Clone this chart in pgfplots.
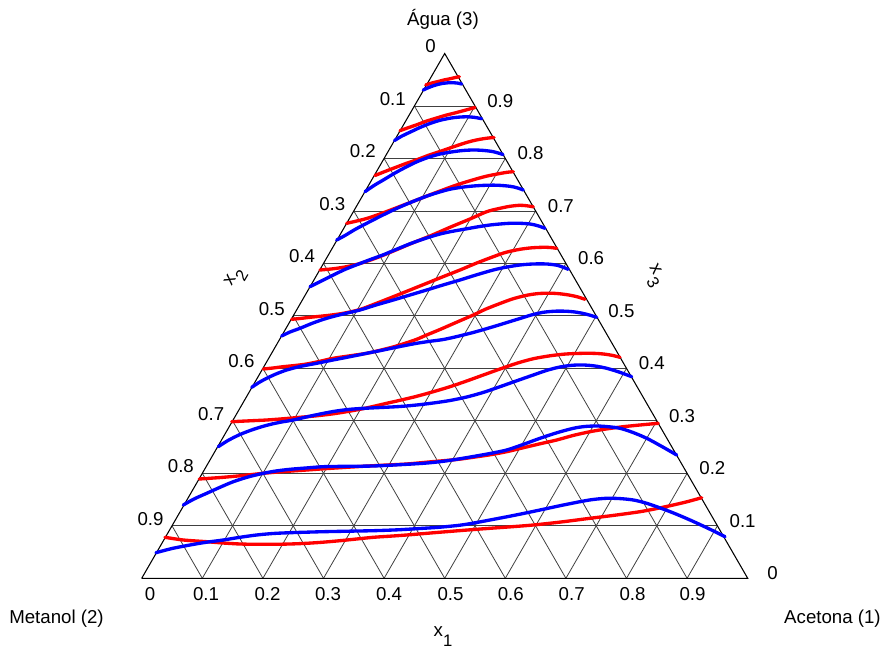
\documentclass[border=0pt]{standalone}
\usepackage{pgfplots}
\pgfplotsset{compat=1.18}
\usepackage{fontspec}
\setmainfont{Liberation Sans}
\definecolor{cred}{RGB}{255,0,0}
\definecolor{cblue}{RGB}{0,0,255}
\tikzset{lab/.style={font=\fontsize{14}{16}\selectfont, inner sep=0pt}}
\begin{document}
\begin{tikzpicture}
\begin{axis}[
  scale only axis, width=664.5pt, height=491.25pt,
  xmin=0, xmax=886, ymin=0, ymax=655, y dir=reverse,
  axis lines=none, clip=false,
  grd/.style={black!75, line width=0.6pt, forget plot},
  rc/.style={cred, line width=2.5pt, smooth, line cap=round, forget plot},
  bc/.style={cblue, line width=2.5pt, smooth, line cap=round, forget plot},
]
\path (axis cs:0,0) rectangle (axis cs:886,655);
% grid: constant x3 (horizontal)
\addplot[grd] coordinates {(172.0,525.82) (717.4,525.82)};
\addplot[grd] coordinates {(202.3,473.34) (687.1,473.34)};
\addplot[grd] coordinates {(232.6,420.86) (656.8,420.86)};
\addplot[grd] coordinates {(262.9,368.38) (626.5,368.38)};
\addplot[grd] coordinates {(293.2,315.9) (596.2,315.9)};
\addplot[grd] coordinates {(323.5,263.42) (565.9,263.42)};
\addplot[grd] coordinates {(353.8,210.94) (535.6,210.94)};
\addplot[grd] coordinates {(384.1,158.46) (505.3,158.46)};
\addplot[grd] coordinates {(414.4,105.98) (475.0,105.98)};
% constant x1
\addplot[grd] coordinates {(202.3,578.3) (475.0,105.98)};
\addplot[grd] coordinates {(262.9,578.3) (505.3,158.46)};
\addplot[grd] coordinates {(323.5,578.3) (535.6,210.94)};
\addplot[grd] coordinates {(384.1,578.3) (565.9,263.42)};
\addplot[grd] coordinates {(444.7,578.3) (596.2,315.9)};
\addplot[grd] coordinates {(505.3,578.3) (626.5,368.38)};
\addplot[grd] coordinates {(565.9,578.3) (656.8,420.86)};
\addplot[grd] coordinates {(626.5,578.3) (687.1,473.34)};
\addplot[grd] coordinates {(687.1,578.3) (717.4,525.82)};
% constant x2
\addplot[grd] coordinates {(687.1,578.3) (414.4,105.98)};
\addplot[grd] coordinates {(626.5,578.3) (384.1,158.46)};
\addplot[grd] coordinates {(565.9,578.3) (353.8,210.94)};
\addplot[grd] coordinates {(505.3,578.3) (323.5,263.42)};
\addplot[grd] coordinates {(444.7,578.3) (293.2,315.9)};
\addplot[grd] coordinates {(384.1,578.3) (262.9,368.38)};
\addplot[grd] coordinates {(323.5,578.3) (232.6,420.86)};
\addplot[grd] coordinates {(262.9,578.3) (202.3,473.34)};
\addplot[grd] coordinates {(202.3,578.3) (172.0,525.82)};
% triangle
\addplot[black, line width=0.8pt, forget plot] coordinates {(141.7,578.3) (747.7,578.3) (444.7,53.5) (141.7,578.3)};

% ---- red curves ----
\addplot[rc] coordinates {(425.7,85) (432,83) (438.3,81.5) (444,80) (450,78.8) (455,77.6) (459.3,76.7)};
\addplot[rc] coordinates {(400,130.7) (408,127.8) (416.7,124.8) (426,121.3) (436.7,118) (446,115.2) (456.7,112.5) (466,110) (475,107.5)};
\addplot[rc] coordinates {(375,175.5) (385,171.5) (396.7,167) (406,163.5) (416.7,159.8) (428,155.5) (440,151.5) (452,147.3) (463.3,143.5) (472,141) (480,139.3) (487,138.2) (494,137.5)};
\addplot[rc] coordinates {(346.7,223.3) (356,221.2) (366.7,218.5) (380,214) (393.3,209) (405,204.5) (416.7,200) (430,194.8) (443.3,189.8) (458,184.5) (473.3,179.8) (486,176.3) (500,173.5) (507,172.3) (513.3,171.7)};
\addplot[rc] coordinates {(320,270) (333,268.8) (346,266.8) (360,263.5) (376.7,257.8) (393,251.2) (410,244) (430,236) (450,227.3) (470,219) (486.7,211.7) (500,208.3) (510,206.3) (520,205.3) (527,205.8) (533.3,206.8)};
\addplot[rc] coordinates {(291.7,319.3) (300,318.5) (310,317.3) (320,316.3) (333.3,314.8) (346,312.8) (360,309.5) (376,303.5) (393.3,296.7) (410,290) (426.7,283.3) (443,276.7) (460,270) (476,263.3) (493.3,256.7) (506,252.3) (520,249.3) (532,247.8) (543.3,247.3) (550,247.5) (556.7,248.3)};
\addplot[rc] coordinates {(263.3,369) (273,368) (283.3,366.7) (295,365.5) (306.7,364) (320,361.3) (333.3,358.3) (350,355.8) (366.7,353.3) (380,350.3) (393,347) (406,343) (416.7,339.3) (426.7,335) (440,329.5) (456,322.5) (473.3,315) (486,309) (500,303.5) (513,298.8) (526.7,295.3) (538,293.6) (550,293.2) (560,293.8) (570,295.2) (578,297) (585,299.3)};
\addplot[rc] coordinates {(231.7,421.7) (250,420.8) (266.7,420) (283,418.8) (300,417.3) (316.7,415.8) (333.3,413.8) (346,411.8) (360,409.3) (373,406.5) (386.7,403.3) (400,400.3) (416.7,396.3) (433,391.8) (450,386.7) (466.7,381) (483.3,375) (500,369) (516.7,363.3) (533,358.8) (550,355.8) (566,354) (583.3,353.3) (595,353.4) (603.3,354) (612,355.3) (620,357.3)};
\addplot[rc] coordinates {(199.3,479) (211,478.2) (223.3,477.3) (243,475.5) (263.3,473.3) (285,471.5) (306.7,470) (331,468.3) (356.7,466.7) (381,465.3) (406.7,464) (431,461.8) (456.7,459.5) (473,457.3) (490,454.8) (506.7,451.7) (523,447.8) (540,443.8) (556.7,440) (573,435.5) (590,431.7) (606,429) (623.3,426.7) (640,425) (658.3,423.3)};
\addplot[rc] coordinates {(165,537.3) (183.3,540) (206.7,541.7) (223,543) (240,544) (256,544.3) (273.3,544.3) (290,544) (306.7,543.3) (323,542.2) (340,540.7) (356.7,539) (373.3,537.3) (390,536.2) (406.7,535) (433,532.8) (460,530.6) (490,528.3) (511,526.8) (533.3,525) (561,522) (590,518.3) (615,515.2) (640,511.7) (657,508.5) (673.3,505) (688,501.5) (701.7,497.7)};

% ---- blue curves ----
\addplot[bc] coordinates {(423.3,90) (428,87.8) (433.3,85.8) (438,84.4) (443.3,83.3) (448,82.8) (453.3,82.7) (457.5,83.1) (461.7,84)};
\addplot[bc] coordinates {(394.5,140.5) (402,136) (410,132.2) (420,127.5) (430,123.5) (440,120.3) (450,118.2) (458,117.2) (466.7,116.8) (474,117.3) (481.7,118.7)};
\addplot[bc] coordinates {(365,191.7) (374,185.5) (383.3,180) (395,173) (406.7,166.7) (418,161.3) (430,156.8) (441,153.8) (453.3,151.7) (463,150.5) (473.3,150) (483,150.4) (493.3,151.7) (503,154.5)};
\addplot[bc] coordinates {(336.7,240) (345,235.5) (355,229.5) (366.7,223.3) (380,216.5) (393.3,210) (405,204.8) (416.7,200) (430,195) (446.7,190) (458,187.8) (470,186.3) (483,185.4) (496.7,185.2) (510,186.3) (517,187.8) (523.3,190)};
\addplot[bc] coordinates {(310,286.7) (320,281.7) (333.3,275) (346,269) (360,263.5) (371,259.3) (383.3,254.8) (396,249.5) (410,243.8) (425,238.5) (440,234) (453,231.2) (466.7,228.8) (478,226.8) (490,225) (500,224) (510,223.3) (520,223.3) (530,224) (538,225.8) (545,228.3)};
\addplot[bc] coordinates {(281.7,336) (290,332) (300,328.3) (313,323) (326.7,318.3) (343,314) (360,310) (376,305) (393.3,300) (410,295) (426.7,290) (443,285) (460,280) (476,275) (493.3,270) (506,267.2) (520,265) (533,264) (546.7,264) (558,265.5) (568.3,269.3)};
\addplot[bc] coordinates {(251.7,387.3) (259,382.5) (266.7,378.3) (276,374) (286.7,370) (300,366.5) (316.7,363.3) (333,360) (350,356.7) (366.7,353.3) (383.3,350) (400,346.5) (416.7,343.3) (430,341.3) (443.3,339.5) (458,336.3) (475,332) (493.3,326.7) (507,322.5) (520,318.5) (532,314.8) (543.3,312.3) (555,311.2) (565,311.2) (573.3,311.8) (582,313.2) (590,315.2) (596.7,317.3)};
\addplot[bc] coordinates {(218.3,446.7) (228,440.5) (240,434.5) (253,429.5) (266.7,425.3) (280,422.3) (293.3,420) (313,415.5) (333.3,411.5) (350,409.3) (366.7,408.2) (383,407.4) (400,406.5) (416.7,405) (433.3,403) (450,400.5) (466.7,397) (483,392.5) (500,386.7) (516.7,380.8) (533.3,375) (547,370.3) (560,367) (572,365.3) (583.3,365) (595,366) (606.7,368.3) (619,372) (631.7,376.7)};
\addplot[bc] coordinates {(183.3,505) (194,499) (206.7,493.3) (220,487.3) (233.3,481.7) (248,477) (263.3,473.3) (276,471) (290,469.3) (306,468) (323.3,466.7) (348,466.3) (373.3,466) (398,464.8) (423.3,463.3) (440,461.7) (456.7,459.3) (473.3,456.5) (490,453.5) (506.7,450) (523,444.5) (540,438.3) (556.7,432.8) (573.3,428.3) (585,426.5) (596.7,426) (608,426.7) (620,428.3) (633,432.5) (646.7,438.3) (661,446) (676.7,455)};
\addplot[bc] coordinates {(156,552.7) (172,548.5) (190,545) (206,542.3) (223.3,540) (240,537.3) (256.7,535) (273,533.5) (290,532.7) (306,532.2) (323.3,531.7) (348,531.2) (373.3,530.7) (398,529.8) (423.3,528.3) (440,527.2) (460,525.2) (475,522.8) (490,520) (515,515.2) (540,510) (560,505.7) (580,501.7) (593,499.5) (606.7,498.3) (620,498.6) (633.3,500) (645,502.8) (656.7,506.7) (673,512.8) (690,520) (708,528.3) (725,536.7)};

% ---- tick labels: x1 (bottom) ----
\node[lab, anchor=base] at (axis cs:150,601) {0};
\node[lab, anchor=base] at (axis cs:206,601) {0.1};
\node[lab, anchor=base] at (axis cs:267.5,601) {0.2};
\node[lab, anchor=base] at (axis cs:328,601) {0.3};
\node[lab, anchor=base] at (axis cs:389,601) {0.4};
\node[lab, anchor=base] at (axis cs:450.5,601) {0.5};
\node[lab, anchor=base] at (axis cs:510.8,601) {0.6};
\node[lab, anchor=base] at (axis cs:571.7,601) {0.7};
\node[lab, anchor=base] at (axis cs:632.5,601) {0.8};
\node[lab, anchor=base] at (axis cs:692.5,601) {0.9};
% x2 (left)
\node[lab, anchor=base east] at (axis cs:436,53) {0};
\node[lab, anchor=base east] at (axis cs:406,105.5) {0.1};
\node[lab, anchor=base east] at (axis cs:376,158) {0.2};
\node[lab, anchor=base east] at (axis cs:345.5,210.4) {0.3};
\node[lab, anchor=base east] at (axis cs:315.3,262.9) {0.4};
\node[lab, anchor=base east] at (axis cs:285,315.4) {0.5};
\node[lab, anchor=base east] at (axis cs:254.7,367.9) {0.6};
\node[lab, anchor=base east] at (axis cs:224.4,420.4) {0.7};
\node[lab, anchor=base east] at (axis cs:194.1,472.8) {0.8};
\node[lab, anchor=base east] at (axis cs:163.8,525.3) {0.9};
% x3 (right)
\node[lab, anchor=base west] at (axis cs:767,579.8) {0};
\node[lab, anchor=base west] at (axis cs:729.4,527.3) {0.1};
\node[lab, anchor=base west] at (axis cs:699.1,474.8) {0.2};
\node[lab, anchor=base west] at (axis cs:668.8,422.4) {0.3};
\node[lab, anchor=base west] at (axis cs:638.5,369.9) {0.4};
\node[lab, anchor=base west] at (axis cs:608.2,317.4) {0.5};
\node[lab, anchor=base west] at (axis cs:577.9,264.9) {0.6};
\node[lab, anchor=base west] at (axis cs:547.6,212.4) {0.7};
\node[lab, anchor=base west] at (axis cs:517.3,160) {0.8};
\node[lab, anchor=base west] at (axis cs:487,107.5) {0.9};
% axis titles
\node[lab, anchor=base] at (axis cs:443,637) {x\raisebox{-0.5em}{\fontsize{12.5}{14}\selectfont 1}};
\node[lab, anchor=center, rotate=60] at (axis cs:236,278) {x\raisebox{-0.5em}{\fontsize{12.5}{14}\selectfont 2}};
\node[lab, anchor=center, rotate=-60] at (axis cs:654,276) {x\kern0.5pt\raisebox{-0.5em}{\fontsize{12.5}{14}\selectfont 3}};
% vertex names
\node[lab, anchor=base] at (axis cs:443,26) {Água (3)};
\node[lab, anchor=base west] at (axis cs:9,624) {Metanol (2)};
\node[lab, anchor=base east] at (axis cs:881,624) {Acetona (1)};
\end{axis}
\end{tikzpicture}
\end{document}
